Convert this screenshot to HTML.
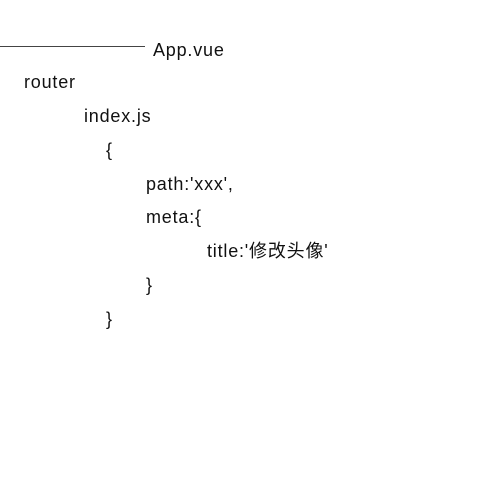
<!DOCTYPE html>
<html><head><meta charset="utf-8"><style>
body{margin:0;width:477px;height:477px;background:#fff;position:relative;overflow:hidden;font-family:"Liberation Sans","Noto Sans CJK SC",sans-serif;font-size:18px;color:#111;letter-spacing:0.8px}
.t{position:absolute;line-height:20px;white-space:nowrap}
.l{position:absolute;left:0;top:46px;width:145px;height:1px;background:#444}
</style></head><body>
<div class="l"></div>
<div class="t" style="left:153px;top:40px">App.vue</div>
<div class="t" style="left:24px;top:72px">router</div>
<div class="t" style="left:84px;top:106px">index.js</div>
<div class="t" style="left:106px;top:140px">{</div>
<div class="t" style="left:146px;top:174px">path:'xxx',</div>
<div class="t" style="left:146px;top:207px">meta:{</div>
<div class="t" style="left:207px;top:241px">title:'修改头像'</div>
<div class="t" style="left:146px;top:275px">}</div>
<div class="t" style="left:106px;top:309px">}</div>
</body></html>
